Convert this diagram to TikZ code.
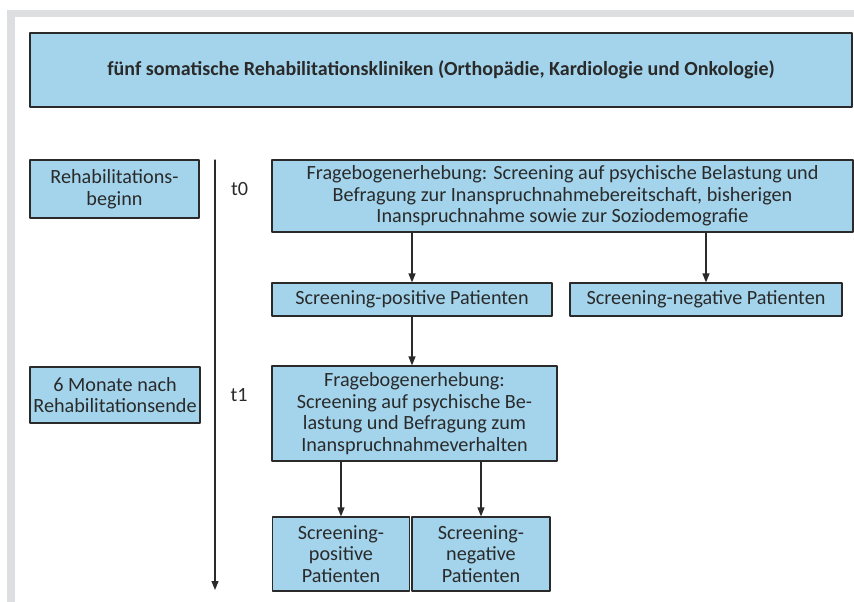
\documentclass[tikz,border=0pt]{standalone}
\usepackage{fontspec}
\setmainfont{Carlito}
\usetikzlibrary{arrows.meta}
\definecolor{boxblue}{HTML}{A3D4EC}
\definecolor{framegray}{HTML}{DDDEDF}
\definecolor{ink}{HTML}{2A2A2A}

\begin{document}
\begin{tikzpicture}[x=1pt,y=-1pt,line cap=round,line join=round,>={Triangle[width=7pt,length=9pt]},
  box/.style={draw=ink,fill=boxblue,line width=1.2pt,text=ink,align=center,inner sep=0pt,font=\fontsize{20.2}{21.5}\selectfont},
  lbl/.style={text=ink,font=\fontsize{20.2}{21.5}\selectfont},
  conn/.style={draw=ink,line width=1.2pt,->}]
\useasboundingbox (0,0) rectangle (854,602);
\fill[framegray] (7,10) rectangle (854,17);
\fill[framegray] (7,10) rectangle (15,602);
\node[box,minimum width=822,minimum height=74,font=\bfseries\fontsize{20}{21.5}\selectfont] (kliniken) at (441,70) {fünf somatische Rehabilitationskliniken (Orthopädie, Kardiologie und Onkologie)};
\node[box,minimum width=169,minimum height=58] (beginn) at (114.5,189) {Rehabilitations-\\beginn};
\node[box,minimum width=170,minimum height=56] (monate) at (115,395) {6 Monate nach\\Rehabilitationsende};
\coordinate (zeitA) at (215,160);
\coordinate (zeitB) at (215,590);
\draw[conn] (zeitA) -- (zeitB);
\node[lbl] (tnull) at (239.5,189) {t0};
\node[lbl] (teins) at (239,395) {t1};
\node[box,minimum width=581,minimum height=72] (frage0) at (562.5,196) {Fragebogenerhebung: Screening auf psychische Belastung und\\Befragung zur Inanspruchnahmebereitschaft, bisherigen\\Inanspruchnahme sowie zur Soziodemografie};
\node[box,minimum width=280,minimum height=33] (pos0) at (412,299.5) {Screening-positive Patienten};
\node[box,minimum width=272,minimum height=33] (neg0) at (706,299.5) {Screening-negative Patienten};
\node[box,minimum width=285,minimum height=95] (frage1) at (414.5,413.5) {Fragebogenerhebung:\\Screening auf psychische Be-\\lastung und Befragung zum\\Inanspruchnahmeverhalten};
\node[box,minimum width=137,minimum height=74] (pos1) at (341,554) {Screening-\\positive\\Patienten};
\node[box,minimum width=138,minimum height=74] (neg1) at (481,554) {Screening-\\negative\\Patienten};
\draw[conn] (frage0.south -| pos0.north) -- (pos0.north);
\draw[conn] (frage0.south -| neg0.north) -- (neg0.north);
\draw[conn] (pos0.south) -- (pos0.south |- frage1.north);
\draw[conn] (frage1.south -| pos1.north) -- (pos1.north);
\draw[conn] (frage1.south -| neg1.north) -- (neg1.north);
\end{tikzpicture}
\end{document}
